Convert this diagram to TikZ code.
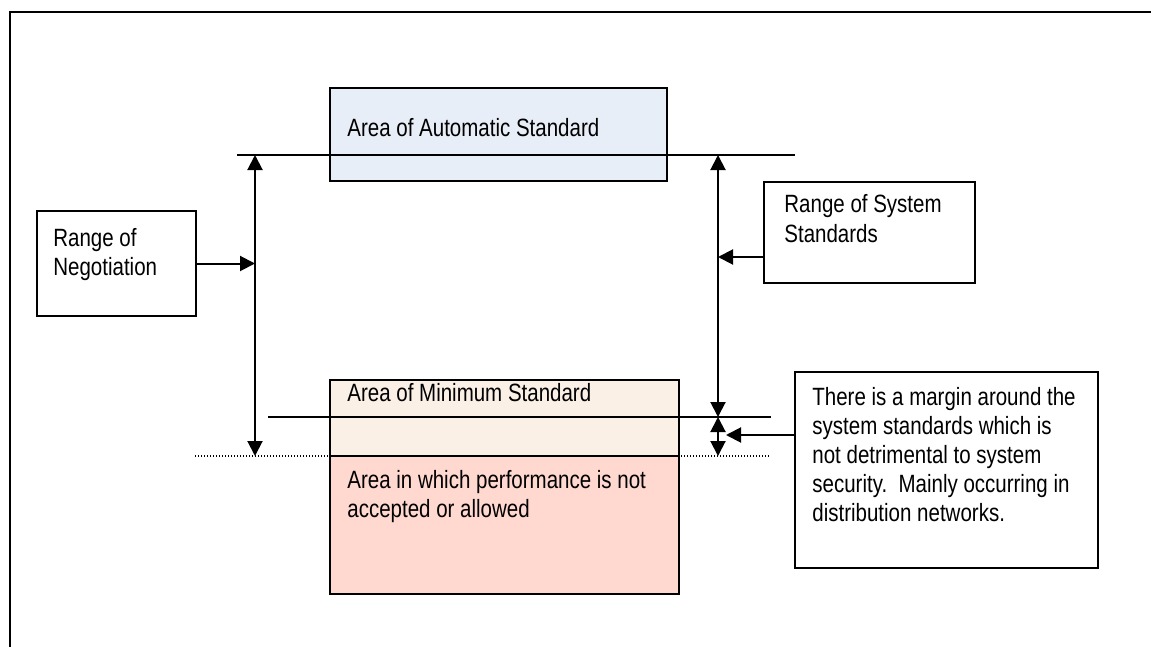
\documentclass[tikz,border=0pt]{standalone}
\usepackage{fontspec}
\setmainfont[FakeStretch=0.82]{Liberation Sans}
\usetikzlibrary{arrows.meta}

\definecolor{autofill}{RGB}{232,238,247}
\definecolor{minfill}{RGB}{251,240,230}
\definecolor{badfill}{RGB}{255,216,208}

\begin{document}
\begin{tikzpicture}[x=0.5pt, y=-0.5pt,
  box/.style={draw, line width=1pt, rectangle, inner sep=0pt},
  txt/.style={anchor=base west, inner sep=0pt, text width=170pt, align=left,
              font=\fontsize{12.5}{14.6}\selectfont,
              execute at begin node={\spaceskip=2.85pt plus 1pt\relax\xspaceskip=\spaceskip}},
  lvl/.style={line width=1pt},
  dots/.style={line width=0.6pt, dash pattern=on 0.6pt off 0.9pt},
  arr/.style={line width=1pt, -{Triangle[length=7.5pt,width=7.5pt]}},
  darr/.style={line width=1pt, {Triangle[length=7.5pt,width=7.5pt]}-{Triangle[length=7.5pt,width=7.5pt]}}
]
\useasboundingbox (0,0) rectangle (1151,647);
% page frame, cut off at the right and bottom
\draw[line width=1pt] (1151,12) -- (10,12) -- (10,647);

% the three areas
\node[box, fill=autofill, minimum width=168.5pt, minimum height=46.5pt] (auto) at (498.5,134.5) {};
\node[box, fill=minfill,  minimum width=174.5pt, minimum height=38pt]   (mini) at (504.5,418) {};
\node[box, fill=badfill,  minimum width=174.5pt, minimum height=69pt]   (bad)  at (504.5,525) {};
\node[txt] (autotxt) at (347,137) {Area of Automatic Standard};
\node[txt] (minitxt) at (347,401) {Area of Minimum Standard};
\node[txt] (badtxt)  at (347,488) {Area in which performance is not\\accepted or allowed};

% levels
\draw[lvl]  (237,155) -- (795,155);
\draw[lvl]  (268,417) -- (771,417);
\draw[dots] (195,456) -- (769,456);

% side boxes
\node[box, minimum width=79.5pt, minimum height=52.5pt] (neg) at (116.5,263.5) {};
\node[txt] (negtxt) at (53,246) {Range of\\Negotiation};
\node[box, minimum width=105.5pt, minimum height=50.5pt] (sys) at (869.5,232.5) {};
\node[txt] (systxt) at (784,213) {Range of System\\Standards};
\node[box, minimum width=151.5pt, minimum height=98pt] (note) at (946.5,470) {};
\node[txt] (notetxt) at (812,405) {There is a margin around the\\system standards which is\\not detrimental to system\\security.\ \ Mainly occurring in\\distribution networks.};

% ranges
\coordinate (negtop) at (255,155);
\coordinate (negbot) at (255,456);
\coordinate (systop) at (718,155);
\coordinate (sysbot) at (718,417);
\coordinate (marbot) at (718,456);
\coordinate (sysin)  at (718,257);
\coordinate (marin)  at (726,435);
\draw[darr] (negbot) -- (negtop);
\draw[darr] (sysbot) -- (systop);
\draw[darr] (marbot) -- (sysbot);
\draw[arr] (neg) -- (neg -| negtop);
\draw[arr] (sysin -| sys.west) -- (sysin);
\draw[arr] (marin -| note.west) -- (marin);
\end{tikzpicture}
\end{document}
